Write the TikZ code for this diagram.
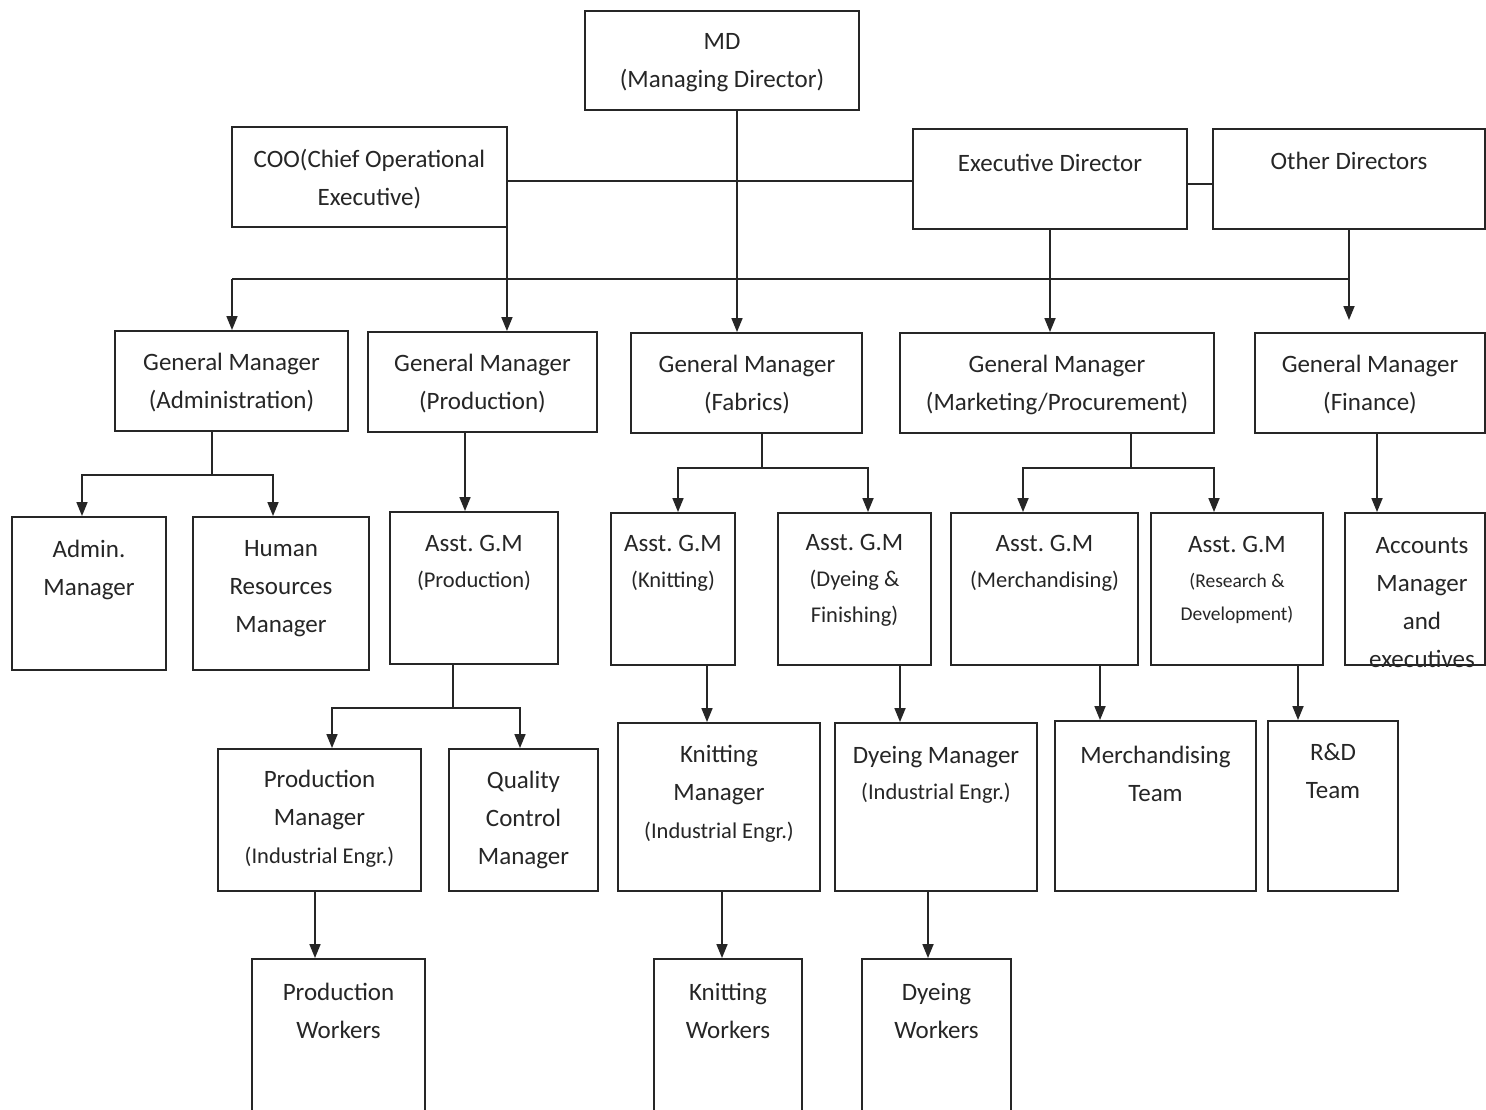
\documentclass[tikz,border=0pt]{standalone}
\usepackage{fontspec}
\setmainfont{Carlito}
\usetikzlibrary{arrows.meta,calc}
\definecolor{ink}{HTML}{262626}
\frenchspacing
\newcommand\fmain{\fontsize{25}{38}\selectfont}
\newcommand\fsub{\fontsize{22.5}{36}\selectfont}
\newcommand\fsmall{\fontsize{19.5}{33}\selectfont}
% box: name, centre x, centre y, width, height
\newcommand\orgbox[5]{\node[box, minimum width=#4pt, minimum height=#5pt] (#1) at (#2,#3) {};}
\tikzset{
  box/.style={draw=ink, line width=1.9pt, rectangle, inner sep=0pt},
  lbl/.style={text=ink, align=center, inner sep=0pt, font=\fmain, yshift=-2.5pt},
  link/.style={draw=ink, line width=1.7pt},
  arr/.style={link, -{Triangle[width=11pt,length=14pt]}},
}
\begin{document}
\begin{tikzpicture}[x=1pt, y=-1pt]
\useasboundingbox (0,0) rectangle (1486,1110);
\fill[white] (0,0) rectangle (1486,1110);
\clip (0,0) rectangle (1486,1110);

% ---- top level
\orgbox{md}{722}{60.5}{274}{99}
\orgbox{coo}{369.5}{177}{275}{100}
\orgbox{exd}{1050}{179}{274}{100}
\orgbox{oth}{1349}{179}{272}{100}
\node[lbl] (mdt)  at (722,60.5) {MD\\(Managing Director)};
\node[lbl] (coot) at (369.5,177) {COO(Chief Operational\\Executive)};
\node[lbl] (exdt) at (1050,160) {Executive Director};
\node[lbl] (otht) at (1349,158) {Other Directors};

% ---- general managers
\orgbox{gmadm}{231.5}{381}{233}{100}
\orgbox{gmprod}{482.5}{382}{229}{100}
\orgbox{gmfab}{746.5}{383}{231}{100}
\orgbox{gmmkt}{1057}{383}{314}{100}
\orgbox{gmfin}{1370}{383}{230}{100}
\node[lbl] (gmadmt)  at (231.5,380.5) {General Manager\\(Administration)};
\node[lbl] (gmprodt) at (482.5,381) {General Manager\\(Production)};
\node[lbl] (gmfabt)  at (747,382) {General Manager\\(Fabrics)};
\node[lbl] (gmmktt)  at (1057,382) {General Manager\\(Marketing/Procurement)};
\node[lbl] (gmfint)  at (1370,382) {General Manager\\(Finance)};

% ---- third row
\orgbox{adm}{89}{593.5}{154}{153}
\orgbox{hr}{281}{593.5}{176}{153}
\orgbox{agprod}{474}{588}{168}{152}
\orgbox{agknit}{673}{589}{124}{152}
\orgbox{agdye}{854.5}{589}{153}{152}
\orgbox{agmer}{1044.5}{589}{187}{152}
\orgbox{agrd}{1237}{589}{172}{152}
\orgbox{acc}{1415}{589}{140}{152}
\node[lbl] (admt) at (89,567) {Admin.\\Manager};
\node[lbl] (hrt)  at (281,586) {Human\\Resources\\Manager};
\node[lbl, font=\fsub] (agprodt) at (474,560) {{\fmain Asst. G.M}\\(Production)};
\node[lbl, font=\fsub] (agknitt) at (673,561) {{\fmain Asst. G.M}\\(Knitting)};
\node[lbl, font=\fsub] (agdyet)  at (854.5,578) {{\fmain Asst. G.M}\\(Dyeing \&\\Finishing)};
\node[lbl, font=\fsub] (agmert)  at (1044.5,561) {{\fmain Asst. G.M}\\(Merchandising)};
\node[lbl, font=\fsmall] (agrdt) at (1237,577) {{\fmain Asst. G.M}\\[2pt](Research \&\\Development)};
\node[lbl] (acct) at (1422,600) {Accounts\\Manager\\and\\executives};

% ---- fourth row
\orgbox{pm}{319.5}{820}{203}{142}
\orgbox{qc}{523.5}{820}{149}{142}
\orgbox{km}{719}{807}{202}{168}
\orgbox{dm}{936}{807}{202}{168}
\orgbox{mt}{1155.5}{806}{201}{170}
\orgbox{rd}{1333}{806}{130}{170}
\node[lbl] (pmt) at (319.5,816.5) {Production\\Manager\\{\fsub (Industrial Engr.)}};
\node[lbl] (qct) at (523.5,817.5) {Quality\\Control\\Manager};
\node[lbl] (kmt) at (719,791.5) {Knitting\\Manager\\{\fsub (Industrial Engr.)}};
\node[lbl] (dmt) at (936,772) {Dyeing Manager\\[-2pt]{\fsub (Industrial Engr.)}};
\node[lbl] (mtt) at (1155.5,771) {Merchandising\\Team};
\node[lbl] (rdt) at (1333,769) {R\&D\\Team};

% ---- workers
\orgbox{pw}{338.5}{1040}{173}{162}
\orgbox{kw}{728}{1040}{148}{162}
\orgbox{dw}{936.5}{1040}{149}{162}
\node[lbl] (pwt) at (338.5,1008.5) {Production\\Workers};
\node[lbl] (kwt) at (728,1008.5) {Knitting\\Workers};
\node[lbl] (dwt) at (936.5,1008.5) {Dyeing\\Workers};

% ---- top-level links
\draw[link] ([yshift=-4pt]coo.east) -- ([yshift=-4pt]coo.east -| exd.west);
\draw[link] ([yshift=-5pt]exd.east) -- ([yshift=-5pt]exd.east -| oth.west);
\draw[arr] ([xshift=15pt]md.south) -- ([xshift=15pt]md.south |- gmfab.north);

\coordinate (busL) at (232,279);
\coordinate (busR) at (1349,279);
\coordinate (finTip) at (1349,320);
\draw[link] (busL) -- (busR);
\draw[arr] (busL) -- (busL |- gmadm.north);
\draw[arr] (oth.south) -- (finTip);
\draw[arr] ([xshift=-1pt]coo.south east) -- ([xshift=-1pt]coo.south east |- gmprod.north);
\draw[arr] (exd.south) -- (exd.south |- gmmkt.north);

% ---- general managers to assistants
\coordinate (fa) at (212,475);
\draw[link] (gmadm.south -| fa) -- (fa);
\draw[arr] (fa) -| ([xshift=-7pt]adm.north);
\draw[arr] (fa) -| ([xshift=-8pt]hr.north);

\draw[arr] ([xshift=-17.5pt]gmprod.south) -- ([xshift=-17.5pt]gmprod.south |- agprod.north);

\coordinate (ff) at (762,468);
\draw[link] (gmfab.south -| ff) -- (ff);
\draw[arr] (ff) -| ([xshift=5pt]agknit.north);
\draw[arr] (ff) -| ([xshift=13.5pt]agdye.north);

\coordinate (fm) at (1131,468);
\draw[link] (gmmkt.south -| fm) -- (fm);
\draw[arr] (fm) -| ([xshift=-21.5pt]agmer.north);
\draw[arr] (fm) -| ([xshift=-23pt]agrd.north);

\draw[arr] ([xshift=7pt]gmfin.south) -- ([xshift=7pt]gmfin.south |- acc.north);

% ---- assistants to managers
\coordinate (fp) at (453,708);
\draw[link] (agprod.south -| fp) -- (fp);
\draw[arr] (fp) -| ([xshift=12.5pt]pm.north);
\draw[arr] (fp) -| ([xshift=-3.5pt]qc.north);

\draw[arr] ([xshift=34pt]agknit.south) -- ([xshift=34pt]agknit.south |- km.north);
\draw[arr] ([xshift=45.5pt]agdye.south) -- ([xshift=45.5pt]agdye.south |- dm.north);
\draw[arr] ([xshift=55.5pt]agmer.south) -- ([xshift=55.5pt]agmer.south |- mt.north);
\draw[arr] ([xshift=61pt]agrd.south) -- ([xshift=61pt]agrd.south |- rd.north);

% ---- managers to workers
\draw[arr] ([xshift=-4.5pt]pm.south) -- ([xshift=-4.5pt]pm.south |- pw.north);
\draw[arr] ([xshift=3pt]km.south) -- ([xshift=3pt]km.south |- kw.north);
\draw[arr] ([xshift=-8pt]dm.south) -- ([xshift=-8pt]dm.south |- dw.north);
\end{tikzpicture}
\end{document}
